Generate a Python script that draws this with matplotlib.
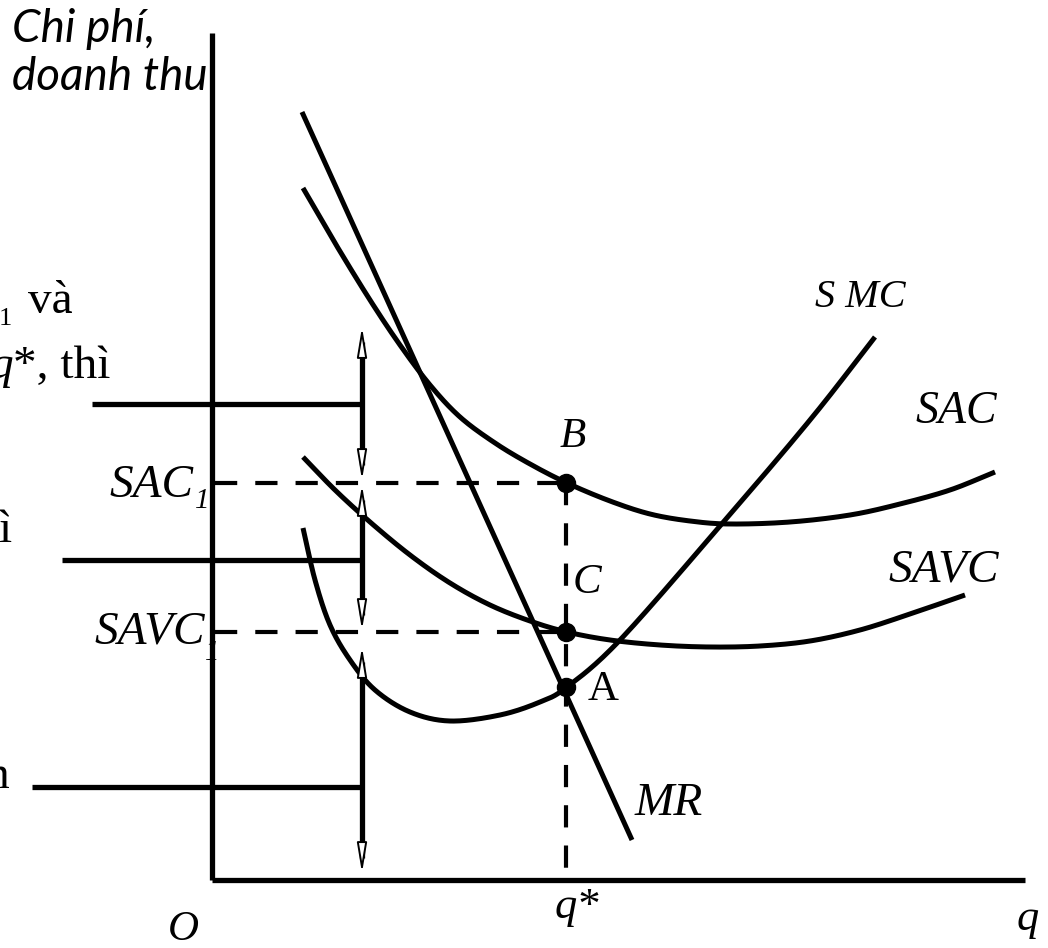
import numpy as np
import matplotlib
matplotlib.use("Agg")
import matplotlib.pyplot as plt

plt.rcParams['lines.scale_dashes'] = False

# --- data (q and cost in arbitrary units, origin at O) ---
sac_q = [0.91, 1.23, 1.58, 1.88, 2.18, 2.48, 2.83, 3.18, 3.55, 3.98, 4.38, 4.78, 5.18, 5.78, 6.38, 6.88, 7.38, 7.83]
sac_c = [6.92, 6.37, 5.80, 5.35, 4.95, 4.63, 4.37, 4.16, 3.97, 3.79, 3.66, 3.59, 3.56, 3.58, 3.65, 3.76, 3.90, 4.08]

savc_q = [0.91, 1.23, 1.58, 1.98, 2.38, 2.78, 3.18, 3.55, 3.98, 4.48, 4.98, 5.48, 5.98, 6.48, 6.98, 7.53]
savc_c = [4.23, 3.90, 3.58, 3.25, 2.97, 2.75, 2.59, 2.48, 2.40, 2.35, 2.33, 2.34, 2.39, 2.50, 2.66, 2.85]

smc_q = [0.91, 1.03, 1.18, 1.38, 1.63, 1.98, 2.38, 2.88, 3.28, 3.55, 4.08, 5.08, 5.98, 6.63]
smc_c = [3.52, 3.00, 2.55, 2.20, 1.90, 1.68, 1.59, 1.65, 1.78, 1.93, 2.40, 3.54, 4.60, 5.43]

mr_q = [0.90, 4.20]
mr_c = [7.68, 0.40]

q_star = 3.54
sac1 = 3.97
savc1 = 2.48
a_level = 1.93

point_levels = [sac1, savc1, a_level]

# horizontal bracket lines coming from the (cut off) side notes
bracket_levels = [4.76, 3.20, 0.93]
bracket_starts = [-1.20, -1.50, -1.80]
arrow_q = 1.50
arrow_spans = [(5.53, 4.00), (3.95, 2.50), (2.33, 0.07)]


def smooth(xs, ys, n=24):
    p = np.column_stack([xs, ys]).astype(float)
    p = np.vstack([2 * p[0] - p[1], p, 2 * p[-1] - p[-2]])
    t = np.linspace(0, 1, n, endpoint=False)[:, None]
    out = []
    for i in range(1, len(p) - 2):
        p0, p1, p2, p3 = p[i - 1], p[i], p[i + 1], p[i + 2]
        seg = 0.5 * (2 * p1 + (-p0 + p2) * t + (2 * p0 - 5 * p1 + 4 * p2 - p3) * t ** 2
                     + (-p0 + 3 * p1 - 3 * p2 + p3) * t ** 3)
        out.append(seg)
    out.append(p[-2][None, :])
    arr = np.vstack(out)
    return arr[:, 0], arr[:, 1]


fig = plt.figure(figsize=(10.48, 9.48), dpi=100)
ax = fig.add_axes([0, 0, 1, 1])
ax.set_xlim(-2.12, 8.36)
ax.set_ylim(-0.68, 8.80)
ax.axis('off')

lw = 3.6
serif = 'Liberation Serif'

# axes
ax.plot([0, 0], [8.47, 0], color='black', lw=3.8, solid_capstyle='butt', zorder=6)
ax.plot([0, 8.13], [0, 0], color='black', lw=3.8, solid_capstyle='butt', zorder=6)

# curves
for qs, cs in [(sac_q, sac_c), (savc_q, savc_c), (smc_q, smc_c)]:
    x, y = smooth(qs, cs)
    ax.plot(x, y, color='black', lw=lw, solid_capstyle='butt', zorder=3)
ax.plot(mr_q, mr_c, color='black', lw=lw, solid_capstyle='butt', zorder=3)

# dashed guides
dash = (0, (16, 13))
ax.plot([0.03, q_star], [sac1, sac1], color='black', lw=3.0, linestyle=dash, zorder=2)
ax.plot([0.03, q_star], [savc1, savc1], color='black', lw=3.0, linestyle=dash, zorder=2)
ax.plot([q_star, q_star], [sac1, 0], color='black', lw=3.0, linestyle=dash, zorder=2)

# points B, C, A
ax.plot([q_star] * 3, point_levels, 'o', color='black', ms=13, zorder=5)

# brackets and double arrows
for lev, x0 in zip(bracket_levels, bracket_starts):
    ax.plot([x0, arrow_q], [lev, lev], color='black', lw=3.8, solid_capstyle='butt', zorder=4)
for top, bot in arrow_spans:
    ax.plot([arrow_q, arrow_q], [top - 0.15, bot + 0.15], color='black', lw=3.8,
            solid_capstyle='butt', zorder=4)
    ax.annotate('', xy=(arrow_q, top), xytext=(arrow_q, bot),
                arrowprops=dict(arrowstyle='<|-|>,head_length=1.8,head_width=0.3',
                                fc='white', ec='black', lw=1.4, shrinkA=0, shrinkB=0),
                zorder=5)

# labels
ax.text(-2.00, 8.38, 'Chi phí,', fontsize=33, family='Lato', style='italic', va='baseline')
ax.text(-2.00, 7.90, 'doanh thu', fontsize=33, family='Lato', style='italic', va='baseline')

lab = dict(family=serif, style='italic', va='baseline')
ax.text(7.03, 4.57, 'SAC', fontsize=33, **lab)
ax.text(6.03, 5.73, 'S MC', fontsize=29, **lab)
ax.text(6.76, 2.98, 'SAVC', fontsize=34, **lab)
ax.text(3.48, 4.33, 'B', fontsize=31, **lab)
ax.text(3.61, 2.87, 'C', fontsize=31, **lab)
ax.text(3.76, 1.80, 'A', fontsize=31, family=serif, va='baseline')
ax.text(4.23, 0.65, 'MR', fontsize=34, **lab)

ax.text(-0.19, 3.83, 'SAC', fontsize=34, ha='right', **lab)
ax.text(-0.17, 3.72, '1', fontsize=21, **lab)
ax.text(-0.07, 2.37, 'SAVC', fontsize=34, ha='right', **lab)
ax.text(-0.07, 2.20, '1', fontsize=21, zorder=1, **lab)

ax.text(3.43, -0.38, 'q*', fontsize=32, **lab)
ax.text(8.05, -0.50, 'q', fontsize=32, **lab)
ax.text(-0.44, -0.60, 'O', fontsize=31, **lab)

# side notes cut off at the left edge
ax.text(-2.00, 5.55, '1', fontsize=19, family=serif, ha='right', va='baseline')
ax.text(-1.84, 5.67, 'và', fontsize=34, family=serif, va='baseline')
ax.text(-1.99, 5.02, 'q', fontsize=34, family=serif, style='italic', ha='right', va='baseline')
ax.text(-1.99, 5.02, '*, thì', fontsize=34, family=serif, va='baseline')
ax.text(-2.00, 3.38, 'ì', fontsize=34, family=serif, ha='right', va='baseline')
ax.text(-2.02, 0.92, 'n', fontsize=34, family=serif, ha='right', va='baseline')

fig.savefig('out.png', dpi=100)
